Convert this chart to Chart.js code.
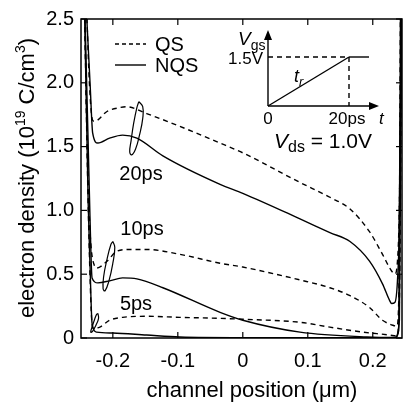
<!DOCTYPE html>
<html>
<head>
<meta charset="utf-8">
<script src="https://cdn.jsdelivr.net/npm/chart.js@4.4.0/dist/chart.umd.min.js"></script>
<style>
  body { margin: 0; background: #fff; }
  #wrap { width: 404px; height: 406px; }
</style>
</head>
<body>
<div id="wrap"><canvas id="densityChart"></canvas></div>
<script>
// channel position (um) vs electron density (1e19 C/cm3)
const qs20X = [-0.243, -0.236, -0.231, -0.228, -0.209, -0.189, -0.179, -0.148, -0.097, -0.035, 0, 0.088, 0.134, 0.165, 0.195, 0.215, 0.229, 0.234, 0.238, 0.241, 0.245];
const qs20Y = [3.0, 1.99, 1.705, 1.698, 1.775, 1.806, 1.813, 1.759, 1.659, 1.528, 1.451, 1.219, 1.103, 1.011, 0.833, 0.656, 0.525, 0.502, 0.602, 1.065, 3.0];

const nqs20X = [-0.245, -0.235, -0.231, -0.223, -0.205, -0.185, -0.163, -0.123, -0.035, 0, 0.088, 0.134, 0.165, 0.195, 0.215, 0.226, 0.229, 0.234, 0.238, 0.241, 0.245];
const nqs20Y = [3.0, 1.99, 1.605, 1.528, 1.566, 1.59, 1.566, 1.427, 1.204, 1.134, 0.934, 0.826, 0.756, 0.602, 0.424, 0.293, 0.27, 0.278, 0.448, 0.91, 3.0];

const qs10X = [-0.245, -0.237, -0.228, -0.225, -0.209, -0.194, -0.174, -0.148, -0.097, -0.035, 0, 0.088, 0.134, 0.165, 0.195, 0.215, 0.231, 0.237, 0.24, 0.243];
const qs10Y = [3.0, 1.065, 0.563, 0.548, 0.602, 0.679, 0.694, 0.694, 0.656, 0.586, 0.556, 0.455, 0.394, 0.332, 0.239, 0.139, 0.1, 0.093, 0.293, 3.0];

const nqs10X = [-0.245, -0.235, -0.232, -0.223, -0.205, -0.185, -0.163, -0.123, -0.035, 0, 0.088, 0.191, 0.234, 0.24, 0.243];
const nqs10Y = [3.0, 0.91, 0.471, 0.432, 0.448, 0.471, 0.463, 0.394, 0.201, 0.139, 0.046, 0.008, 0.004, 0.06, 3.0];

const qs5X = [-0.245, -0.237, -0.231, -0.22, -0.205, -0.185, -0.148, -0.097, -0.035, 0, 0.088, 0.134, 0.185, 0.226, 0.237, 0.241, 0.245];
const qs5Y = [3.0, 0.833, 0.077, 0.085, 0.139, 0.162, 0.17, 0.162, 0.154, 0.147, 0.123, 0.085, 0.046, 0.023, 0.015, 0.293, 3.0];

const nqs5X = [-0.245, -0.238, -0.235, -0.232, -0.225, -0.2, -0.148, -0.097, 0, 0.234, 0.241, 0.245];
const nqs5Y = [3.0, 1.065, 0.548, 0.116, 0.046, 0.039, 0.023, 0.008, 0.003, 0.003, 0.139, 3.0];

// the little loops tying each QS/NQS pair to its label
const loop20X = [-0.16, -0.154, -0.154, -0.159, -0.165, -0.171, -0.174, -0.172, -0.168, -0.163, -0.16];
const loop20Y = [1.852, 1.813, 1.721, 1.59, 1.481, 1.435, 1.458, 1.543, 1.682, 1.806, 1.852];
const loop10X = [-0.2, -0.197, -0.2, -0.206, -0.212, -0.215, -0.214, -0.209, -0.203, -0.2];
const loop10Y = [0.756, 0.71, 0.586, 0.448, 0.37, 0.386, 0.486, 0.617, 0.733, 0.756];
const loop5X = [-0.223, -0.222, -0.226, -0.231, -0.234, -0.232, -0.228, -0.225, -0.223];
const loop5Y = [0.193, 0.154, 0.1, 0.054, 0.046, 0.085, 0.147, 0.185, 0.193];

const xTicks = [-0.2, -0.1, 0, 0.1, 0.2];
const yTicks = [0, 0.5, 1.0, 1.5, 2.0, 2.5];

const FONT = '"Liberation Sans", Arial, Helvetica, sans-serif';

function pts(xs, ys) {
  return xs.map((x, i) => ({ x: x, y: ys[i] }));
}

function curve(xs, ys, dashed) {
  return {
    data: pts(xs, ys),
    showLine: true,
    borderColor: '#000',
    borderWidth: 1.4,
    borderDash: dashed ? [5, 4] : [],
    pointRadius: 0,
    cubicInterpolationMode: 'monotone'
  };
}

function loop(xs, ys) {
  return {
    data: pts(xs, ys),
    showLine: true,
    borderColor: '#000',
    borderWidth: 1.2,
    pointRadius: 0,
    tension: 0.45
  };
}

function text(ctx, str, x, y, size, opts) {
  opts = opts || {};
  ctx.font = (opts.italic ? 'italic ' : '') + size + 'px ' + FONT;
  ctx.textAlign = opts.align || 'left';
  ctx.textBaseline = 'alphabetic';
  ctx.fillText(str, x, y);
  return ctx.measureText(str).width;
}

function seg(ctx, x1, y1, x2, y2, dash) {
  ctx.setLineDash(dash || []);
  ctx.beginPath();
  ctx.moveTo(x1, y1);
  ctx.lineTo(x2, y2);
  ctx.stroke();
  ctx.setLineDash([]);
}

function arrowHead(ctx, x, y, dir) {
  ctx.beginPath();
  if (dir === 'up') {
    ctx.moveTo(x, y); ctx.lineTo(x - 4, y + 10); ctx.lineTo(x + 4, y + 10);
  } else {
    ctx.moveTo(x, y); ctx.lineTo(x - 10, y - 4); ctx.lineTo(x - 10, y + 4);
  }
  ctx.closePath();
  ctx.fill();
}

const annotate = {
  id: 'annotate',
  afterDraw(chart) {
    const { ctx, chartArea: a, scales: { x, y } } = chart;
    ctx.save();
    ctx.strokeStyle = '#000';
    ctx.fillStyle = '#000';

    // frame with inward ticks
    ctx.lineWidth = 1.5;
    ctx.strokeRect(a.left, a.top, a.right - a.left, a.bottom - a.top);
    ctx.lineWidth = 1.2;
    xTicks.forEach(v => {
      const px = x.getPixelForValue(v);
      seg(ctx, px, a.bottom, px, a.bottom - 6);
      seg(ctx, px, a.top, px, a.top + 6);
    });
    yTicks.forEach(v => {
      const py = y.getPixelForValue(v);
      seg(ctx, a.left, py, a.left + 6, py);
      seg(ctx, a.right, py, a.right - 6, py);
    });

    // axis titles
    text(ctx, 'channel position (\u03bcm)', 252, 397, 22, { align: 'center' });

    ctx.save();
    ctx.translate(34, 178);
    ctx.rotate(-Math.PI / 2);
    const parts = [
      ['electron density (10', 22, 0],
      ['19', 14, -9],
      [' C/cm', 22, 0],
      ['3', 14, -9],
      [')', 22, 0]
    ];
    let total = 0;
    parts.forEach(p => { ctx.font = p[1] + 'px ' + FONT; total += ctx.measureText(p[0]).width; });
    let cx = -total / 2;
    parts.forEach(p => { cx += text(ctx, p[0], cx, p[2], p[1]); });
    ctx.restore();

    // legend
    ctx.lineWidth = 1.4;
    seg(ctx, 115, 44, 146, 44, [4, 3]);
    text(ctx, 'QS', 155, 51, 20);
    seg(ctx, 115, 65, 146, 65);
    text(ctx, 'NQS', 155, 72, 20);

    // time labels
    text(ctx, '20ps', 141, 180, 20, { align: 'center' });
    text(ctx, '10ps', 142, 235, 20, { align: 'center' });
    text(ctx, '5ps', 136, 310, 20, { align: 'center' });

    // gate voltage ramp inset
    const ox = 268, oy = 106, rx = 349, ry = 57;
    ctx.lineWidth = 1.4;
    seg(ctx, ox, oy, ox, 38);
    arrowHead(ctx, ox, 30, 'up');
    seg(ctx, ox, oy, 370, oy);
    arrowHead(ctx, 379, oy, 'right');
    seg(ctx, ox, oy, rx, ry);
    seg(ctx, ox, ry, rx, ry, [5, 4]);
    seg(ctx, rx, ry, 369, ry);
    seg(ctx, rx, ry, rx, oy, [5, 4]);
    let w = text(ctx, 'V', 238, 45, 19, { italic: true });
    text(ctx, 'gs', 238 + w, 50, 14);
    text(ctx, '1.5V', 263, 64, 17, { align: 'right' });
    text(ctx, '0', ox, 124, 17, { align: 'center' });
    text(ctx, '20ps', 347, 124, 17, { align: 'center' });
    text(ctx, 't', 379, 124, 17, { italic: true });
    w = text(ctx, 't', 294, 82, 18, { italic: true });
    text(ctx, 'r', 294 + w, 86, 13, { italic: true });

    // drain bias
    w = text(ctx, 'V', 274, 148, 21, { italic: true });
    const w2 = text(ctx, 'ds', 274 + w, 152, 16);
    text(ctx, ' = 1.0V', 274 + w + w2, 148, 21);

    ctx.restore();
  }
};

new Chart(document.getElementById('densityChart'), {
  type: 'scatter',
  data: {
    datasets: [
      curve(qs20X, qs20Y, true),
      curve(nqs20X, nqs20Y, false),
      curve(qs10X, qs10Y, true),
      curve(nqs10X, nqs10Y, false),
      curve(qs5X, qs5Y, true),
      curve(nqs5X, nqs5Y, false),
      loop(loop20X, loop20Y),
      loop(loop10X, loop10Y),
      loop(loop5X, loop5Y)
    ]
  },
  options: {
    responsive: true,
    maintainAspectRatio: false,
    animation: false,
    layout: { padding: { top: 14, right: 2, left: 0, bottom: 0 } },
    plugins: {
      legend: { display: false },
      tooltip: { enabled: false }
    },
    scales: {
      x: {
        type: 'linear',
        min: -0.249,
        max: 0.245,
        afterBuildTicks: s => { s.ticks = xTicks.map(v => ({ value: v })); },
        afterFit: s => { s.height = 68; },
        grid: { display: false, drawTicks: false },
        border: { display: false },
        ticks: {
          padding: 11,
          color: '#000',
          font: { family: FONT, size: 20 },
          callback: v => (v === 0 ? '0' : v.toFixed(1))
        }
      },
      y: {
        type: 'linear',
        min: 0,
        max: 2.5,
        afterBuildTicks: s => { s.ticks = yTicks.map(v => ({ value: v })); },
        afterFit: s => { s.width = 81; },
        grid: { display: false, drawTicks: false },
        border: { display: false },
        ticks: {
          padding: 7,
          color: '#000',
          font: { family: FONT, size: 20 },
          callback: v => (v === 0 ? '0' : v.toFixed(1))
        }
      }
    }
  },
  plugins: [annotate]
});
</script>
</body>
</html>
